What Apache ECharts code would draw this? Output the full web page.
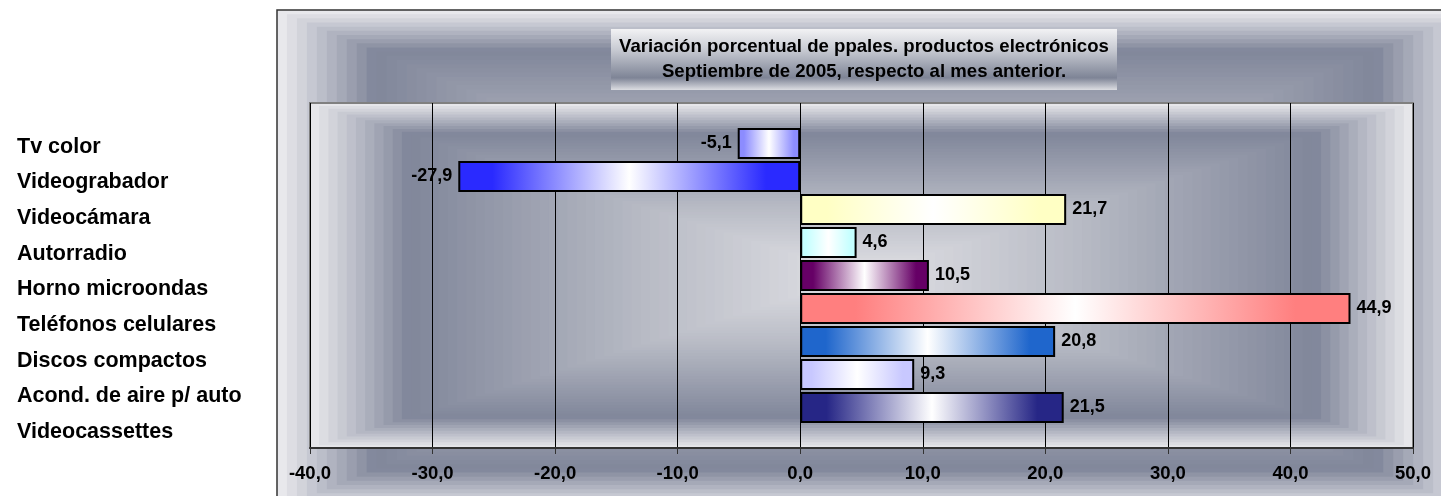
<!DOCTYPE html>
<html>
<head>
<meta charset="utf-8">
<script src="https://cdn.jsdelivr.net/npm/echarts@6/dist/echarts.min.js"></script>
<style>
  html, body { margin: 0; padding: 0; background: #fff; }
  #chart { width: 1441px; height: 496px; }
</style>
</head>
<body>
<div id="chart"></div>
<script>
// data
const categories = ['Tv color', 'Videograbador', 'Videocámara', 'Autorradio', 'Horno microondas',
  'Teléfonos celulares', 'Discos compactos', 'Acond. de aire p/ auto', 'Videocassettes']
const values = [-5.1, -27.9, 21.7, 4.6, 10.5, 44.9, 20.8, 9.3, 21.5]
const barEdge = ['#8c8cff', '#2a2aff', '#ffffc4', '#c4ffff', '#660066', '#ff7f7f', '#1f66cc', '#c8c8ff', '#262686']
const xMin = -40
const xMax = 50
const xStep = 10

const FONT = 'Arial, "Liberation Sans", sans-serif'

function fmt(v) {
  return v.toFixed(1).replace('.', ',')
}

function hex(c) {
  return [1, 3, 5].map(i => parseInt(c.slice(i, i + 2), 16))
}
function colorAt(stops, t) {
  for (let i = 1; i < stops.length; i++) {
    if (t <= stops[i][0]) {
      const a = stops[i - 1], b = stops[i]
      const k = (t - a[0]) / (b[0] - a[0])
      const ca = hex(a[1]), cb = hex(b[1])
      return 'rgb(' + ca.map((v, j) => Math.round(v + (cb[j] - v) * k)).join(',') + ')'
    }
  }
  return stops[stops.length - 1][1]
}

// rectangular "from center" fill, like the spreadsheet one, drawn as nested rects
function rectFill(x, y, w, h, stops, n, z) {
  const out = []
  for (let i = 0; i < n; i++) {
    const t = i / n
    const dx = t * w / 2, dy = t * h / 2
    out.push({
      type: 'rect', silent: true, z: z + i * 0.01,
      shape: { x: x + dx, y: y + dy, width: w - 2 * dx, height: h - 2 * dy },
      style: { fill: colorAt(stops, t) }
    })
  }
  return out
}

const outerStops = [[0, '#e8e8ec'], [0.155, '#80869a'], [0.5, '#b0b3be'], [1, '#d4d6dc']]
const plotStops = [[0, '#e6e6ea'], [0.17, '#80869a'], [0.6, '#b8bbc5'], [1, '#e2e2e6']]

const graphics = [].concat(
  rectFill(277, 10, 1196, 500, outerStops, 60, -300),
  [{
    type: 'rect', silent: true, z: -200,
    shape: { x: 277, y: 10, width: 1196, height: 500 },
    style: { fill: 'none', stroke: '#333', lineWidth: 1.5 }
  }],
  rectFill(310, 103, 1103, 345, plotStops, 60, -150),
  [{
    type: 'rect', silent: true, z: -50,
    shape: { x: 611, y: 29, width: 506, height: 61 },
    style: {
      fill: new echarts.graphic.LinearGradient(0, 0, 0, 1, [
        { offset: 0, color: '#f2f2f4' },
        { offset: 0.35, color: '#c6c9d1' },
        { offset: 0.8, color: '#7e8496' },
        { offset: 1, color: '#dcdde2' }
      ])
    }
  }]
)

const barData = values.map((v, i) => ({
  value: v,
  itemStyle: {
    color: new echarts.graphic.LinearGradient(0, 0, 1, 0, [
      { offset: 0, color: barEdge[i] },
      { offset: 0.1, color: barEdge[i] },
      { offset: 0.5, color: '#ffffff' },
      { offset: 0.9, color: barEdge[i] },
      { offset: 1, color: barEdge[i] }
    ])
  },
  label: { position: v < 0 ? 'left' : 'right' }
}))

const chart = echarts.init(document.getElementById('chart'))
chart.setOption({
  animation: false,
  title: {
    text: 'Variación porcentual de ppales. productos electrónicos\nSeptiembre de 2005, respecto al mes anterior.',
    left: 864,
    top: 34,
    padding: 0,
    textAlign: 'center',
    textStyle: { fontFamily: FONT, fontSize: 18.6, fontWeight: 'bold', color: '#000', lineHeight: 25 }
  },
  graphic: { elements: graphics },
  grid: [
    { left: 310, top: 103, width: 1103, height: 345, show: true, borderColor: '#808080', borderWidth: 2, backgroundColor: 'transparent' },
    { left: 310, top: 127, width: 1103, height: 297 },
    { left: 17, top: 129, width: 1, height: 321 }
  ],
  xAxis: [
    {
      gridIndex: 0, type: 'value', min: xMin, max: xMax, interval: xStep,
      axisLine: { show: true, lineStyle: { color: '#333', width: 2 } },
      axisTick: { show: true, length: 6, lineStyle: { color: '#333' } },
      splitLine: { show: true, lineStyle: { color: '#000', width: 1 } },
      axisLabel: { formatter: fmt, margin: 16, fontFamily: FONT, fontSize: 18.5, fontWeight: 'bold', color: '#000' }
    },
    { gridIndex: 1, type: 'value', min: xMin, max: xMax, show: false },
    { gridIndex: 2, type: 'value', show: false }
  ],
  yAxis: [
    { gridIndex: 0, type: 'value', min: 0, max: 1, show: false },
    { gridIndex: 1, type: 'category', inverse: true, data: categories, show: false },
    {
      gridIndex: 2, type: 'category', inverse: true, data: categories,
      axisLine: { show: false }, axisTick: { show: false },
      axisLabel: { align: 'left', margin: 0, fontFamily: FONT, fontSize: 21.5, fontWeight: 'bold', color: '#000' }
    }
  ],
  series: [{
    type: 'bar',
    xAxisIndex: 1,
    yAxisIndex: 1,
    barWidth: 31,
    data: barData,
    itemStyle: { borderColor: '#000', borderWidth: 2 },
    label: {
      show: true, distance: 6, formatter: p => fmt(p.value),
      fontFamily: FONT, fontSize: 18, fontWeight: 'bold', color: '#000'
    }
  }]
})
</script>
</body>
</html>
